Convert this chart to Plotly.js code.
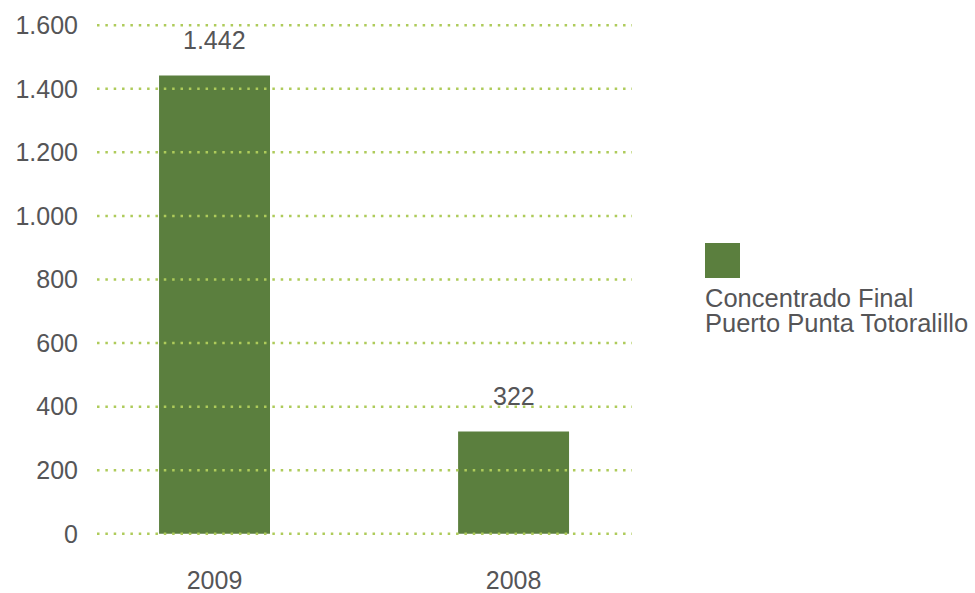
<!DOCTYPE html>
<html>
<head>
<meta charset="utf-8">
<script src="https://cdn.plot.ly/plotly-3.0.1.min.js"></script>
<style>html,body{margin:0;padding:0;background:#fff;}#chart{width:975px;height:593px;}</style>
</head>
<body>
<div id="chart"></div>
<script>
// ---- data ----
var years = ['2009', '2008'];
var values = [1442, 322];
var seriesNameLines = ['Concentrado Final', 'Puerto Punta Totoralillo'];
var yTickValues = [0, 200, 400, 600, 800, 1000, 1200, 1400, 1600];

// ---- style ----
var barColor = '#5b7f3e';
var gridColor = '#aecb5a';
var textColor = '#555557';
var fontFamily = '"Liberation Sans", Arial, Helvetica, sans-serif';
var fontSize = 25;
var legendFontSize = 25.5;

function fmt(v) {
  return String(v).replace(/\B(?=(\d{3})+(?!\d))/g, '.');
}

var plotL = 97, plotR = 632, plotT = 22, plotB = 537;
var W = 975, H = 593;
function px2x(px) { return (px - plotL) / (plotR - plotL); }
function px2y(py) { return (plotB - py) / (plotB - plotT); }

var trace = {
  type: 'bar',
  x: years,
  y: values,
  marker: {color: barColor},
  showlegend: false,
  hoverinfo: 'skip'
};

var annotations = years.map(function (yr, i) {
  return {
    x: i, y: values[i], xref: 'x', yref: 'y',
    text: fmt(values[i]), showarrow: false,
    xanchor: 'center', yanchor: 'bottom', yshift: 19,
    font: {family: fontFamily, size: fontSize, color: textColor}
  };
});
seriesNameLines.forEach(function (line, i) {
  annotations.push({
    x: px2x(703), y: px2y(298 + i * 25), xref: 'paper', yref: 'paper',
    text: line, showarrow: false, xanchor: 'left', yanchor: 'middle',
    font: {family: fontFamily, size: legendFontSize, color: textColor}
  });
});

// dotted grid lines drawn above the bars, one per y tick
var shapes = yTickValues.map(function (v) {
  return {
    type: 'line', xref: 'paper', yref: 'y', layer: 'above',
    x0: 0, x1: 1, y0: v, y1: v,
    line: {color: gridColor, width: 2.5, dash: '2.5px,5.85px'}
  };
});
shapes.push({
  type: 'rect', xref: 'paper', yref: 'paper',
  xsizemode: 'pixel', ysizemode: 'pixel',
  xanchor: px2x(705), yanchor: px2y(278),
  x0: 0, x1: 35, y0: 0, y1: 35,
  fillcolor: barColor, line: {width: 0}
});

var layout = {
  width: W, height: H,
  margin: {l: plotL, r: W - plotR, t: plotT, b: H - plotB, pad: 0},
  paper_bgcolor: '#fff', plot_bgcolor: '#fff',
  separators: ',.',
  bargap: 0.629,
  font: {family: fontFamily, size: fontSize, color: textColor},
  xaxis: {
    type: 'category',
    range: [-0.393, 1.396],
    showgrid: false, zeroline: false, showline: false, ticks: '',
    ticklabelstandoff: 26,
    tickfont: {family: fontFamily, size: fontSize, color: textColor}
  },
  yaxis: {
    range: [-10, 1610],
    tickvals: yTickValues,
    ticktext: yTickValues.map(fmt),
    showgrid: false,
    zeroline: false, showline: false, ticks: '',
    ticklabelstandoff: 18,
    tickfont: {family: fontFamily, size: fontSize, color: textColor}
  },
  shapes: shapes,
  annotations: annotations
};

Plotly.newPlot('chart', [trace], layout, {displayModeBar: false, staticPlot: true});
</script>
</body>
</html>
